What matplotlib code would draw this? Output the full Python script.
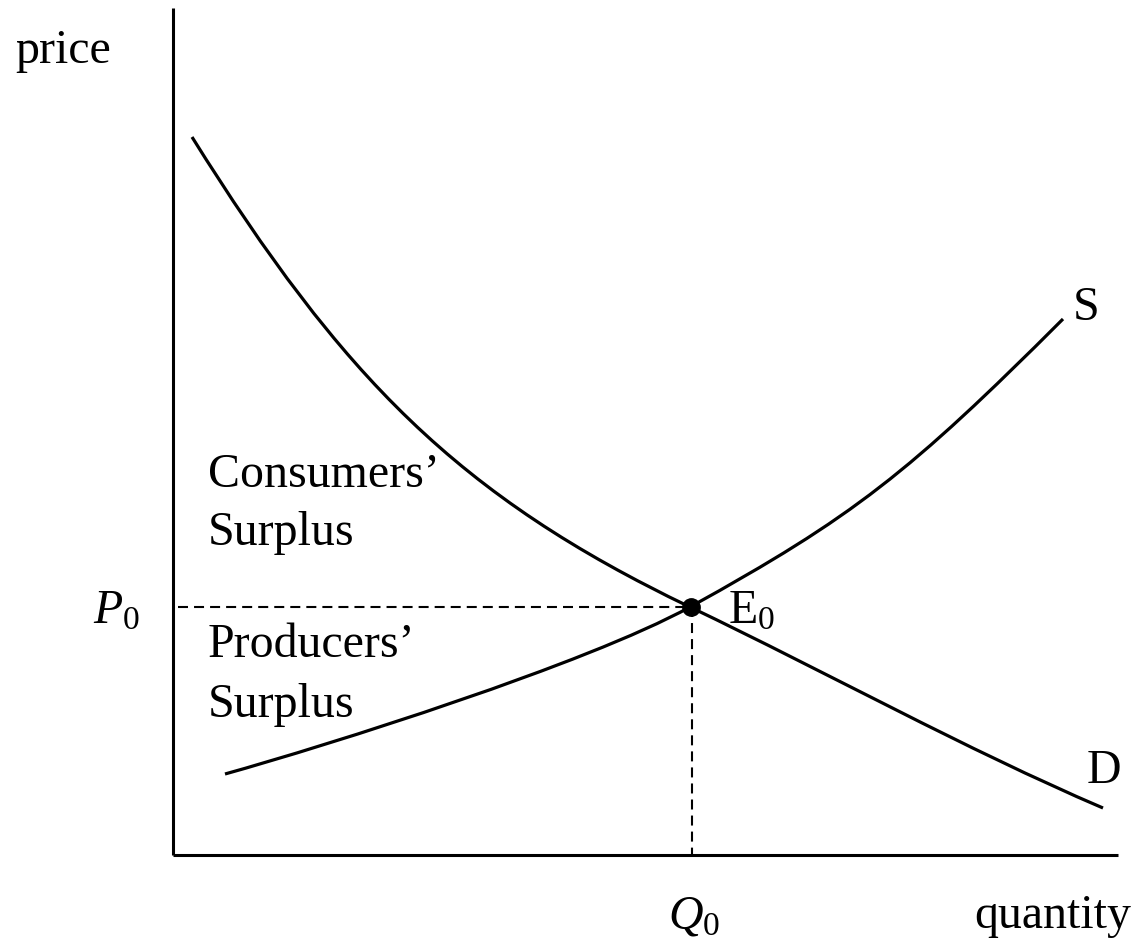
import matplotlib.pyplot as plt
from matplotlib.path import Path
from matplotlib.patches import PathPatch

plt.rcParams['font.family'] = ['Liberation Serif', 'DejaVu Serif']
plt.rcParams['mathtext.fontset'] = 'custom'
plt.rcParams['mathtext.rm'] = 'Liberation Serif'
plt.rcParams['mathtext.it'] = 'Liberation Serif:italic'

# curve anchor/control points (quantity, price), origin at the axis corner
# demand: start, ctrl, ctrl, E0, ctrl, ctrl, end
demand_q = [19, 169, 285, 517, 657, 790, 930]
demand_p = [718, 478, 359, 248, 181, 107, 47]
# supply: start, ctrl, ctrl, E0, ctrl, ctrl, end
supply_q = [52, 156, 413, 517, 680, 736, 890]
supply_p = [81, 110, 191, 248, 338, 382, 536]

eq_q, eq_p = 518, 248
x_max, y_max = 945, 847

fig = plt.figure(figsize=(11.32, 9.38), dpi=100)
ax = fig.add_axes([0, 0, 1, 1])
ax.set_xlim(-173, 959)
ax.set_ylim(-83, 855)
ax.axis('off')

# axes
ax.plot([0, 0], [0, y_max], color='black', lw=2.2, solid_capstyle='butt')
ax.plot([0, x_max], [0, 0], color='black', lw=2.2, solid_capstyle='butt')

codes = [Path.MOVETO] + [Path.CURVE4] * 6
for qs, ps in [(demand_q, demand_p), (supply_q, supply_p)]:
    path = Path(list(zip(qs, ps)), codes)
    ax.add_patch(PathPatch(path, facecolor='none', edgecolor='black', lw=2.3,
                           capstyle='butt'))

# equilibrium guides
ax.plot([5, eq_q], [eq_p, eq_p], color='black', lw=1.5, dashes=(4.8, 2.9))
ax.plot([eq_q + 1, eq_q + 1], [eq_p, 0], color='black', lw=1.5, dashes=(4.8, 2.9))
ax.plot([eq_q], [eq_p], 'o', color='black', markersize=12.5)

fs = 34.5
txt = dict(fontsize=fs, va='baseline', ha='left')
ax.text(-158, 792, 'price', **txt)
ax.text(801, -73, 'quantity', **txt)
ax.text(-80, 232, r'$P_0$', **txt)
ax.text(495, -73, r'$Q_0$', **txt)
ax.text(555, 232, r'$\mathrm{E}_0$', **txt)
ax.text(900, 535, 'S', **txt)
ax.text(914, 72, 'D', **txt)
ax.text(35, 368, 'Consumers\u2019', **txt)
ax.text(35, 310, 'Surplus', **txt)
ax.text(35, 198, 'Producers\u2019', **txt)
ax.text(35, 138, 'Surplus', **txt)

fig.savefig('out.png', dpi=100)
